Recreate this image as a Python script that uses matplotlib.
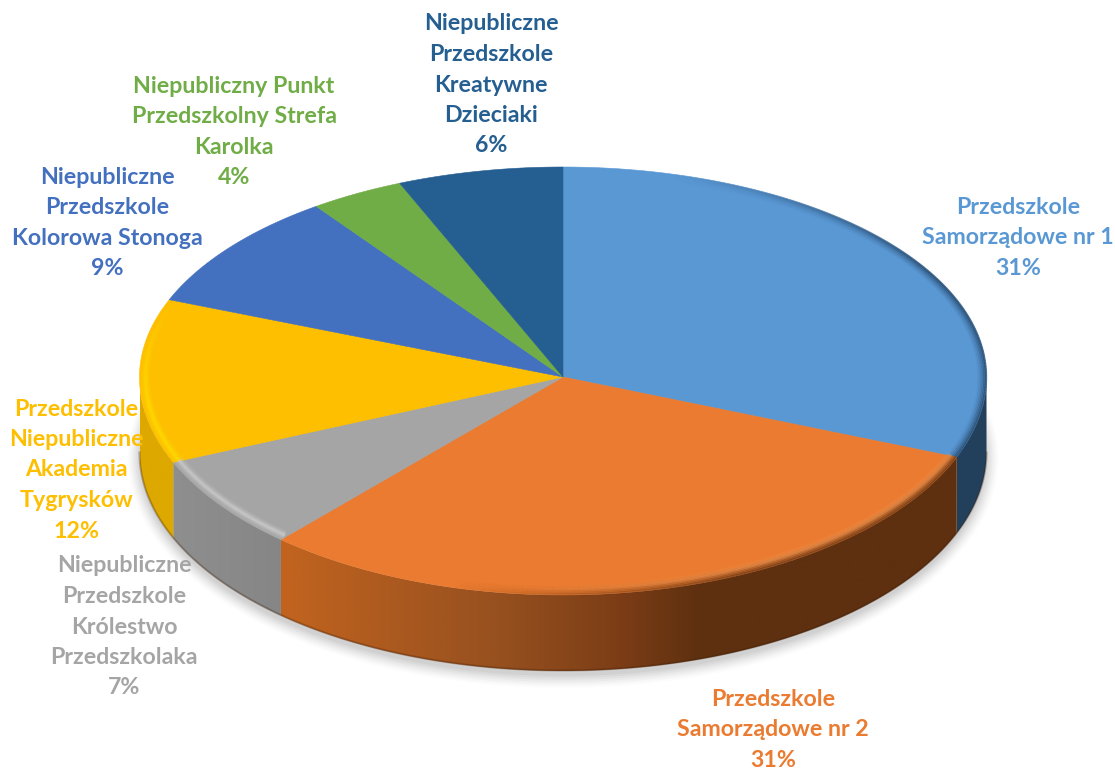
import numpy as np
import matplotlib
matplotlib.use("Agg")
import matplotlib.pyplot as plt
from matplotlib.collections import LineCollection
from matplotlib.colors import to_rgb

categories = ["Przedszkole\nSamorządowe nr 1", "Przedszkole\nSamorządowe nr 2",
              "Niepubliczne\nPrzedszkole\nKrólestwo\nPrzedszkolaka",
              "Przedszkole\nNiepubliczne\nAkademia\nTygrysków",
              "Niepubliczne\nPrzedszkole\nKolorowa Stonoga",
              "Niepubliczny Punkt\nPrzedszkolny Strefa\nKarolka",
              "Niepubliczne\nPrzedszkole\nKreatywne\nDzieciaki"]
values = [31.0, 30.6, 7.0, 12.4, 9.1, 3.6, 6.3]
colors = ["#5A98D4", "#EA7B30", "#A5A5A5", "#FDBF00", "#4370BF", "#70AD47", "#255E91"]
label_x = [1018, 773, 124, 76, 107, 234, 491]
label_y = [238, 730, 627, 470, 223, 132, 85]

CX, CY, RX, RT, RB, DEPTH = 563, 377, 423.5, 210, 218, 76
LINE_H = 30.5

# side shading: (x pixel, colour) stops per slice
side_stops = {
    0: [(900, "#22405C"), (990, "#22405C")],
    1: [(280, "#C2641F"), (500, "#96501F"), (620, "#7C3D16"), (700, "#5E3010"), (965, "#5E3010")],
    2: [(170, "#8F8F8F"), (290, "#858585")],
    3: [(135, "#DDA800"), (180, "#DDA800")],
}


def ell(theta):
    """theta: clockwise degrees from 12 o'clock."""
    t = np.radians(theta)
    c = np.cos(t)
    return CX + RX * np.sin(t), CY - np.where(c > 0, RT, RB) * c


def lerp_color(stops, x):
    xs = [s[0] for s in stops]
    cs = np.array([to_rgb(s[1]) for s in stops])
    return tuple(np.interp(x, xs, cs[:, i]) for i in range(3))


def band(a0, a1, inset, lw, col, alpha, fade_in=0.0, fade_out=0.0):
    """Stroke along the top rim with alpha tapering in/out (degrees)."""
    grid = np.linspace(a0, a1, 240)
    x, y = ell(grid)
    x = CX + (x - CX) * (RX - inset) / RX
    y = CY + (y - CY) * (RB - inset) / RB
    pts = np.column_stack([x, y])
    segs = np.stack([pts[:-1], pts[1:]], axis=1)
    mid = (grid[:-1] + grid[1:]) / 2
    a = np.ones_like(mid) * alpha
    if fade_in:
        a *= np.clip((mid - a0) / fade_in, 0, 1)
    if fade_out:
        a *= np.clip((a1 - mid) / fade_out, 0, 1)
    rgba = np.column_stack([np.tile(to_rgb(col), (len(mid), 1)), a])
    ax.add_collection(LineCollection(segs, colors=rgba, linewidths=lw, capstyle="butt", zorder=5))


fig = plt.figure(figsize=(11.15, 7.69), dpi=100)
ax = fig.add_axes([0, 0, 1, 1])
ax.set_xlim(0, 1115)
ax.set_ylim(769, 0)
ax.axis("off")

edges = np.concatenate([[0], np.cumsum(values)]) / sum(values) * 360

# soft shadow
t = np.linspace(0, 360, 361)
ex, ey = ell(t)
for grow, alpha in zip([12, 10, 8, 6, 4, 2, 0], [.012, .018, .022, .026, .03, .035, .04]):
    sx = CX + (ex - CX) * (RX + grow) / RX
    sy = CY + (ey - CY) * (RB + grow) / RB + DEPTH + 5
    ax.fill(sx, sy, color="black", alpha=alpha, lw=0, zorder=1)

# sides (only the front half is visible): clipped horizontal gradient per slice
for i in side_stops:
    a0, a1 = max(edges[i], 90), min(edges[i + 1], 270)
    if a1 <= a0:
        continue
    grid = np.linspace(a0, a1, 200)
    x, y = ell(grid)
    poly = ax.fill(np.r_[x, x[::-1]], np.r_[y, y[::-1] + DEPTH], color="none", lw=0, zorder=2)[0]
    xmin, xmax = x.min(), x.max()
    xs = np.linspace(xmin, xmax, max(int(xmax - xmin), 2))
    img = np.array([[lerp_color(side_stops[i], v) for v in xs]])
    im = ax.imshow(img, extent=(xmin, xmax, 769, 0), aspect="auto", interpolation="bilinear", zorder=2)
    im.set_clip_path(poly)
ax.set_xlim(0, 1115)
ax.set_ylim(769, 0)

# bottom dark rim of the side
grid = np.linspace(90, 270, 300)
bx, by = ell(grid)
ax.plot(bx, by + DEPTH - 0.5, color="#3A1D08", alpha=.3, lw=1.5, zorder=3)

# top faces
for i, col in enumerate(colors):
    grid = np.linspace(edges[i], edges[i + 1], 200)
    x, y = ell(grid)
    ax.fill(np.r_[CX, x], np.r_[CY, y], color=col, ec=col, lw=0.4, zorder=4)

# bevel: soft highlights on the lit left front
e = edges
for inset, lw, al in [(6, 7, .12), (6, 5, .16), (6, 3, .28), (6, 1.5, .32)]:
    band(e[1], 190, inset, lw, "#FFA560", al, fade_out=40)
    band(e[2], e[3], inset, lw, "#D8D8D8", al * 1.1)
    band(e[3], 292, inset, lw, "#FFDC00", al * 1.6, fade_out=30)

# bevel: dark blur on the lit-away right rim
for inset, al in [(0.5, .60), (2, .42), (3.5, .30), (5, .18), (6.5, .10), (8, .05)]:
    band(15, e[1], inset, 1.7, "#1F3C5A", al, fade_in=45)
    band(e[1], 195, inset, 1.7, "#5E3010", al, fade_out=40)

# data labels
for name, v, col, lx, ly in zip(categories, values, colors, label_x, label_y):
    lines = name.split("\n") + [f"{round(v)}%"]
    y0 = ly - (len(lines) - 1) * LINE_H / 2
    for k, line in enumerate(lines):
        ax.text(lx, y0 + k * LINE_H, line, color=col, family="Lato", weight="bold",
                fontsize=16.7, ha="center", va="center", zorder=6)

fig.savefig("out.png", dpi=100)
